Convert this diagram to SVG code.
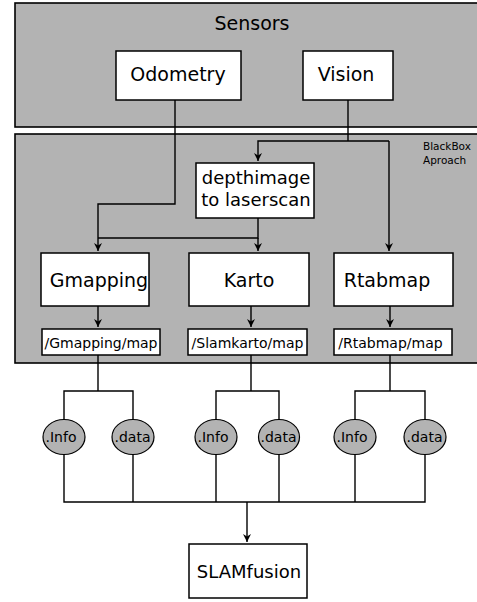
<svg xmlns="http://www.w3.org/2000/svg" width="477" height="602" viewBox="0 0 477 602">
<style>
.grp{fill:#b3b3b3;stroke:#000;stroke-width:1.6}
.box{fill:#fff;stroke:#000;stroke-width:1.5}
.ell{fill:#b3b3b3;stroke:#000;stroke-width:1.2}
.ln{fill:none;stroke:#000;stroke-width:1.4}
text{font-family:"DejaVu Sans","Liberation Sans",sans-serif;fill:#000;text-anchor:middle}
.big{font-size:19px}
.mid{font-size:18px}
.sm{font-size:14px}
.xs{font-size:10.5px;text-anchor:start}
</style>
<defs>
<marker id="ah" markerWidth="8" markerHeight="10" refX="8" refY="4" orient="auto" markerUnits="userSpaceOnUse" viewBox="0 0 8 8">
<path d="M0,0 L8,4 L0,8 L2.5,4 Z" fill="#000"/>
</marker>
</defs>
<g id="sensors">
<rect class="grp" x="15" y="3" width="470" height="124"/>
<text class="big" x="252" y="30">Sensors</text>
</g>
<g id="blackbox">
<rect class="grp" x="15" y="134" width="470" height="229"/>
<text class="xs" x="423" y="150">BlackBox</text>
<text class="xs" x="423" y="164">Aproach</text>
</g>
<g id="connectors">
<path class="ln" d="M175,100 V204 H98 V251" marker-end="url(#ah)"/>
<path class="ln" d="M348,100 V141"/>
<path class="ln" d="M389,141 H258 V161" marker-end="url(#ah)"/>
<path class="ln" d="M389,141 V251" marker-end="url(#ah)"/>
<path class="ln" d="M258,218 V238 H98"/>
<path class="ln" d="M258,238 V251" marker-end="url(#ah)"/>
<path class="ln" d="M98,306 V327" marker-end="url(#ah)"/>
<path class="ln" d="M251,306 V327" marker-end="url(#ah)"/>
<path class="ln" d="M390,306 V327" marker-end="url(#ah)"/>
<path class="ln" d="M98,355 V391 M64,420 V391 H133 V420"/>
<path class="ln" d="M251,355 V391 M216,420 V391 H279 V420"/>
<path class="ln" d="M390,355 V391 M355,420 V391 H425 V420"/>
<path class="ln" d="M64,454 V502 H425 V454 M133,454 V502 M216,454 V502 M279,454 V502 M355,454 V502"/>
<path class="ln" d="M247,502 V542" marker-end="url(#ah)"/>
</g>
<g id="odometry">
<rect class="box" x="116" y="51" width="125" height="49"/>
<text class="big" x="178" y="81">Odometry</text>
</g>
<g id="vision">
<rect class="box" x="303" y="51" width="90" height="49"/>
<text class="big" x="346" y="81">Vision</text>
</g>
<g id="depthimage">
<rect class="box" x="196" y="163" width="118" height="55"/>
<text class="mid" x="256" y="184">depthimage</text>
<text class="mid" x="256" y="206">to laserscan</text>
</g>
<g id="gmapping">
<rect class="box" x="41" y="253" width="108" height="53"/>
<text class="big" x="99" y="287">Gmapping</text>
</g>
<g id="karto">
<rect class="box" x="189" y="253" width="120" height="53"/>
<text class="big" x="249" y="287">Karto</text>
</g>
<g id="rtabmap">
<rect class="box" x="334" y="253" width="119" height="53"/>
<text class="big" x="387" y="287">Rtabmap</text>
</g>
<g id="gmap_map">
<rect class="box" x="42" y="329" width="118" height="26"/>
<text class="sm" x="101" y="348">/Gmapping/map</text>
</g>
<g id="karto_map">
<rect class="box" x="188" y="329" width="119" height="26"/>
<text class="sm" x="247.5" y="348">/Slamkarto/map</text>
</g>
<g id="rtab_map">
<rect class="box" x="334" y="329" width="118" height="26"/>
<text class="sm" x="390.5" y="348">/Rtabmap/map</text>
</g>
<g id="info1"><ellipse class="ell" cx="64" cy="437" rx="21" ry="17.5"/><text class="sm" x="61" y="442">.Info</text></g>
<g id="data1"><ellipse class="ell" cx="133" cy="437" rx="21" ry="17.5"/><text class="sm" x="132.5" y="442">.data</text></g>
<g id="info2"><ellipse class="ell" cx="216" cy="437" rx="21" ry="17.5"/><text class="sm" x="213" y="442">.Info</text></g>
<g id="data2"><ellipse class="ell" cx="279" cy="437" rx="20.5" ry="17.5"/><text class="sm" x="278.5" y="442">.data</text></g>
<g id="info3"><ellipse class="ell" cx="355" cy="437" rx="21" ry="17.5"/><text class="sm" x="352" y="442">.Info</text></g>
<g id="data3"><ellipse class="ell" cx="425" cy="437" rx="21" ry="17.5"/><text class="sm" x="424.5" y="442">.data</text></g>
<g id="slamfusion">
<rect class="box" x="189" y="544" width="118" height="54"/>
<text class="mid" x="249" y="578">SLAMfusion</text>
</g>
</svg>
